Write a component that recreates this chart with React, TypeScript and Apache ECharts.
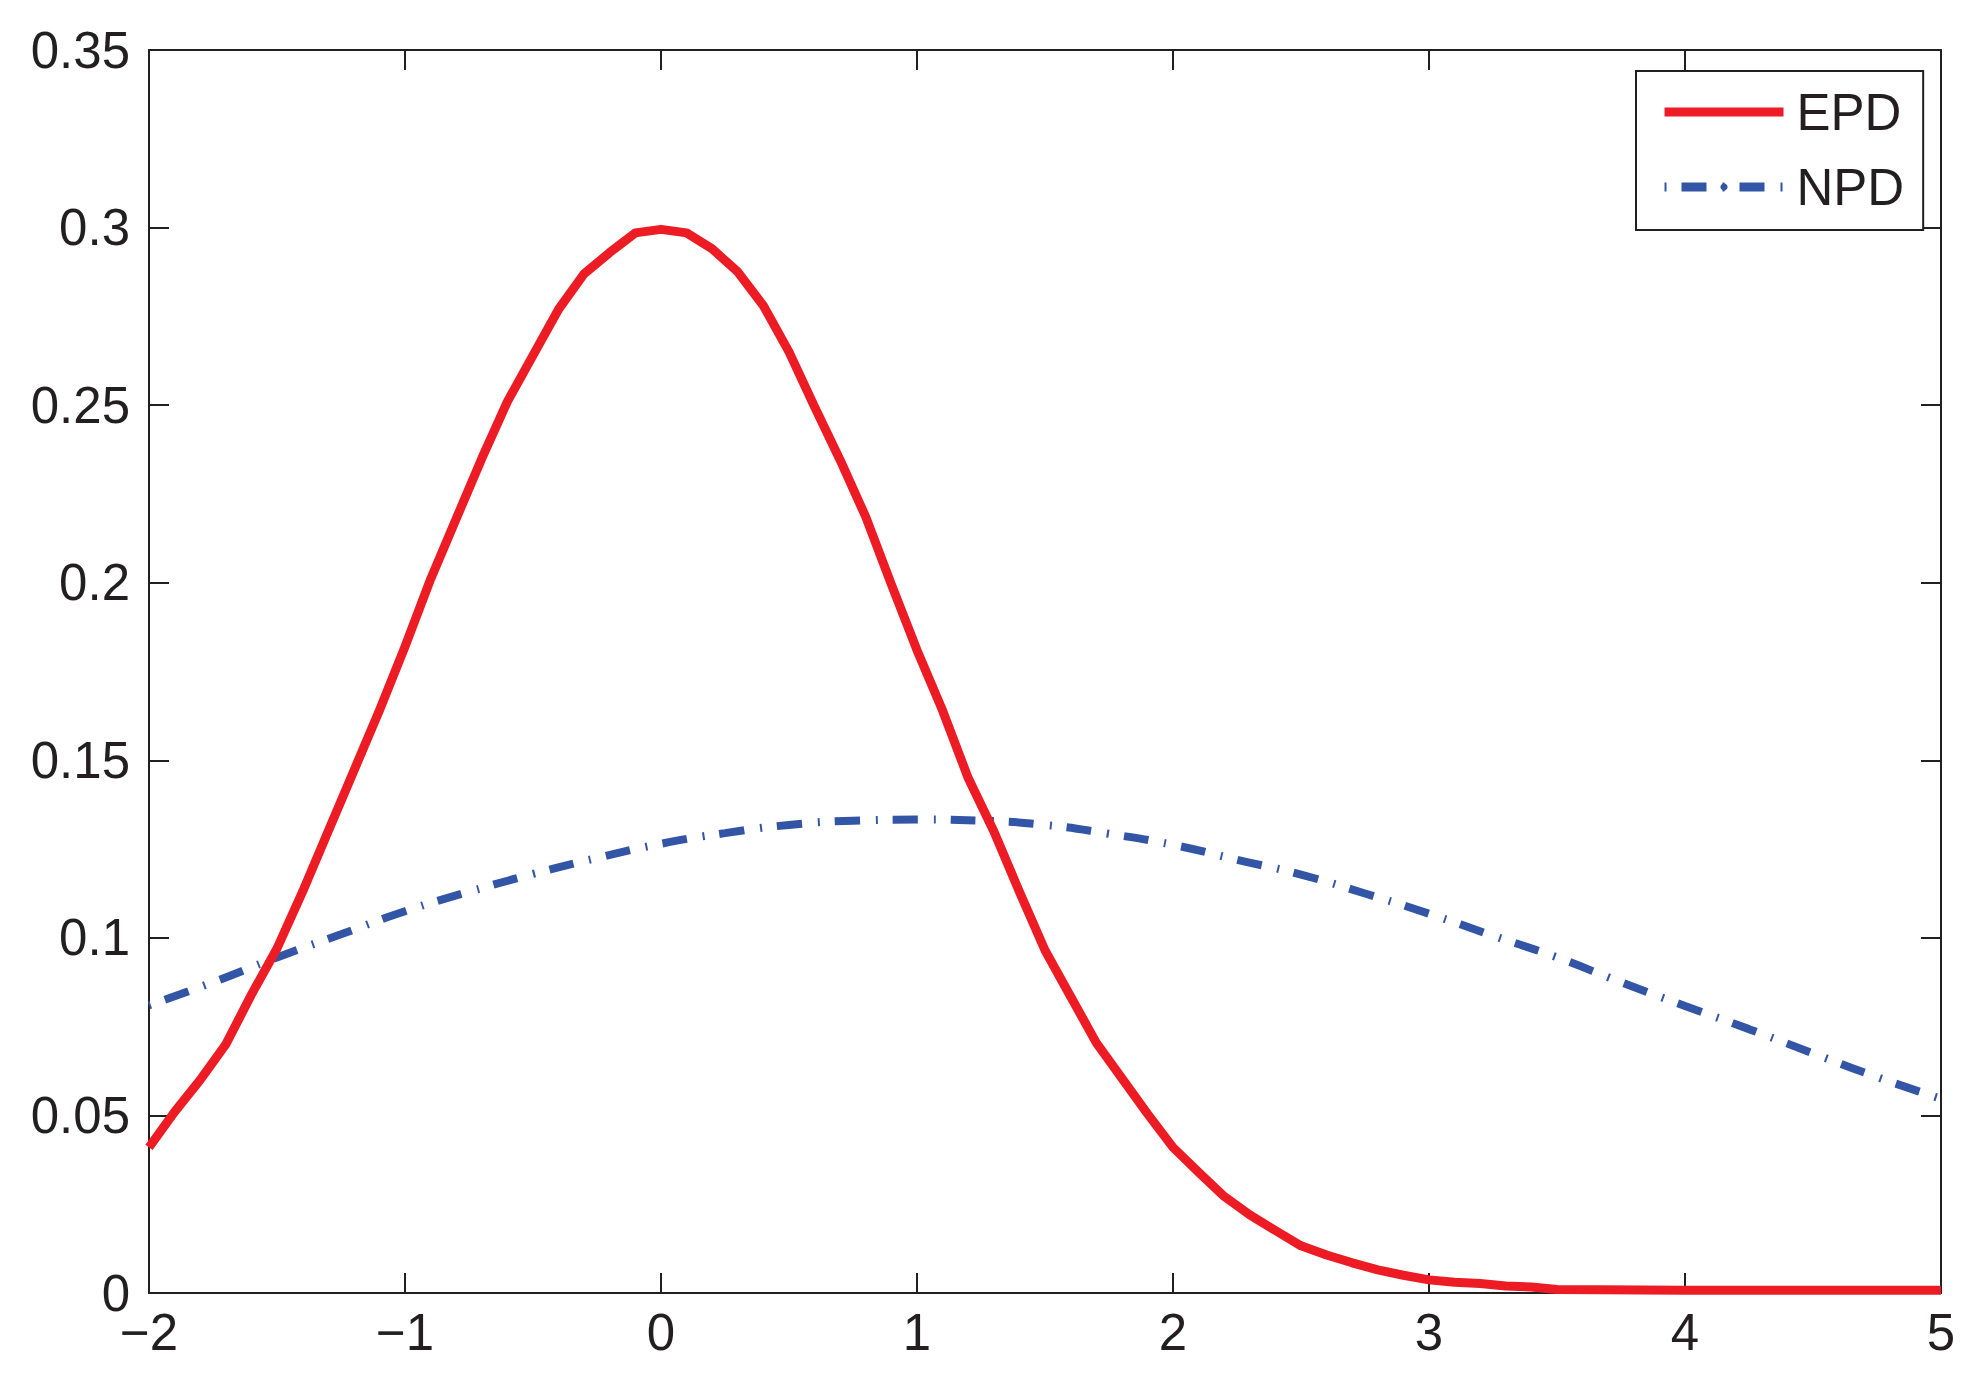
import React, { useEffect, useRef } from "react";
import * as echarts from "echarts";

const epdX = [
  -2.0, -1.9, -1.8, -1.7, -1.6, -1.5, -1.4, -1.3, -1.2, -1.1, -1.0, -0.9, -0.8, -0.7, -0.6, -0.5, -0.4, -0.3, -0.2, -0.1,
  0.0, 0.1, 0.2, 0.3, 0.4, 0.5, 0.6, 0.7, 0.8, 0.9, 1.0, 1.1, 1.2, 1.3, 1.4, 1.5, 1.6, 1.7, 1.8, 1.9,
  2.0, 2.1, 2.2, 2.3, 2.4, 2.5, 2.6, 2.7, 2.8, 2.9, 3.0, 3.1, 3.2, 3.3, 3.4, 3.5, 4.0, 4.5, 5.0,
];
const epdY = [
  0.041, 0.051, 0.06, 0.07, 0.084, 0.097, 0.113, 0.13, 0.147, 0.164, 0.182, 0.201, 0.218, 0.235, 0.251, 0.264, 0.277, 0.287, 0.293, 0.2985,
  0.2995, 0.2985, 0.294, 0.2875, 0.278, 0.265, 0.2495, 0.2345, 0.2185, 0.1995, 0.181, 0.164, 0.145, 0.13, 0.113, 0.0965, 0.0835, 0.0705, 0.0605, 0.0505,
  0.041, 0.034, 0.0272, 0.022, 0.0176, 0.0133, 0.0107, 0.0085, 0.0065, 0.005, 0.0037, 0.003, 0.0027, 0.002, 0.0017, 0.001, 0.0008, 0.0008, 0.0008,
];

const npdX = [
  -2, -1.75, -1.5, -1.25, -1, -0.75, -0.5, -0.25, 0, 0.25, 0.5, 0.75, 1, 1.25, 1.5, 1.75,
  2, 2.25, 2.5, 2.75, 3, 3.25, 3.5, 3.75, 4, 4.25, 4.5, 4.75, 5,
];
const npdY = [
  0.081, 0.0875, 0.0945, 0.101, 0.1075, 0.113, 0.118, 0.1225, 0.1265, 0.1295, 0.1318, 0.133, 0.1333, 0.133, 0.1318, 0.1293,
  0.1262, 0.122, 0.1178, 0.1125, 0.1068, 0.1006, 0.0945, 0.0875, 0.0808, 0.0743, 0.0675, 0.0608, 0.0547,
];

const seriesNames = ["EPD", "NPD"];
const xRange = { min: -2, max: 5, interval: 1 };
const yRange = { min: 0, max: 0.35, interval: 0.05 };

const INK = "#231F20";
const RED = "#ED1C24";
const BLUE = "#3355A6";
const FONT = "'Liberation Sans', Arial, Helvetica, sans-serif";

function fmtX(v: number) {
  return v < 0 ? "\u2212" + Math.abs(v) : String(v);
}
function fmtY(v: number) {
  return String(parseFloat(v.toFixed(2)));
}

export default function App() {
  const ref = useRef<HTMLDivElement>(null);
  useEffect(() => {
    if (!ref.current) return;
    const chart = echarts.init(ref.current, null, { renderer: "svg" });
    const tick = { show: true, inside: true, length: 20, lineStyle: { color: INK, width: 2 } };
    const line = { show: true, onZero: false, lineStyle: { color: INK, width: 2 } };
    chart.setOption({
      animation: false,
      backgroundColor: "#ffffff",
      grid: { left: 149, top: 50, right: 45, bottom: 93, containLabel: false },
      xAxis: [
        {
          type: "value", ...xRange, position: "bottom",
          axisLine: line, axisTick: tick, splitLine: { show: false },
          axisLabel: { color: INK, fontSize: 51, fontFamily: FONT, lineHeight: 30, margin: 24, formatter: fmtX },
        },
        {
          type: "value", ...xRange, position: "top",
          axisLine: line, axisTick: tick, splitLine: { show: false }, axisLabel: { show: false },
        },
      ],
      yAxis: [
        {
          type: "value", ...yRange, position: "left",
          axisLine: line, axisTick: tick, splitLine: { show: false },
          axisLabel: { color: INK, fontSize: 51, fontFamily: FONT, lineHeight: 30, margin: 19, formatter: fmtY },
        },
        {
          type: "value", ...yRange, position: "right",
          axisLine: line, axisTick: tick, splitLine: { show: false }, axisLabel: { show: false },
        },
      ],
      legend: {
        show: true,
        orient: "vertical",
        left: 1636,
        top: 71,
        data: seriesNames,
        itemWidth: 119,
        itemHeight: 9,
        itemGap: 23,
        padding: [15, 19, 17, 24],
        borderColor: INK,
        borderWidth: 2,
        backgroundColor: "#ffffff",
        textStyle: { color: INK, fontSize: 51, fontFamily: FONT, lineHeight: 52, padding: [0, 0, 0, 8] },
        lineStyle: { width: 9 },
      },
      series: [
        {
          name: seriesNames[0],
          type: "line",
          data: epdX.map((x, i) => [x, epdY[i]]),
          showSymbol: false,
          symbol: "none",
          lineStyle: { color: RED, width: 9, type: "solid", join: "round" },
          itemStyle: { color: RED },
          z: 3,
        },
        {
          name: seriesNames[1],
          type: "line",
          data: npdX.map((x, i) => [x, npdY[i]]),
          showSymbol: false,
          symbol: "none",
          smooth: true,
          lineStyle: { color: BLUE, width: 8, type: [2, 15, 25, 16], cap: "butt" },
          itemStyle: { color: BLUE },
          z: 2,
        },
      ],
    });
    return () => chart.dispose();
  }, []);
  return (
    <div
      ref={ref}
      style={{ position: "fixed", left: 0, top: 0, width: 1986, height: 1386, background: "#fff" }}
    />
  );
}
